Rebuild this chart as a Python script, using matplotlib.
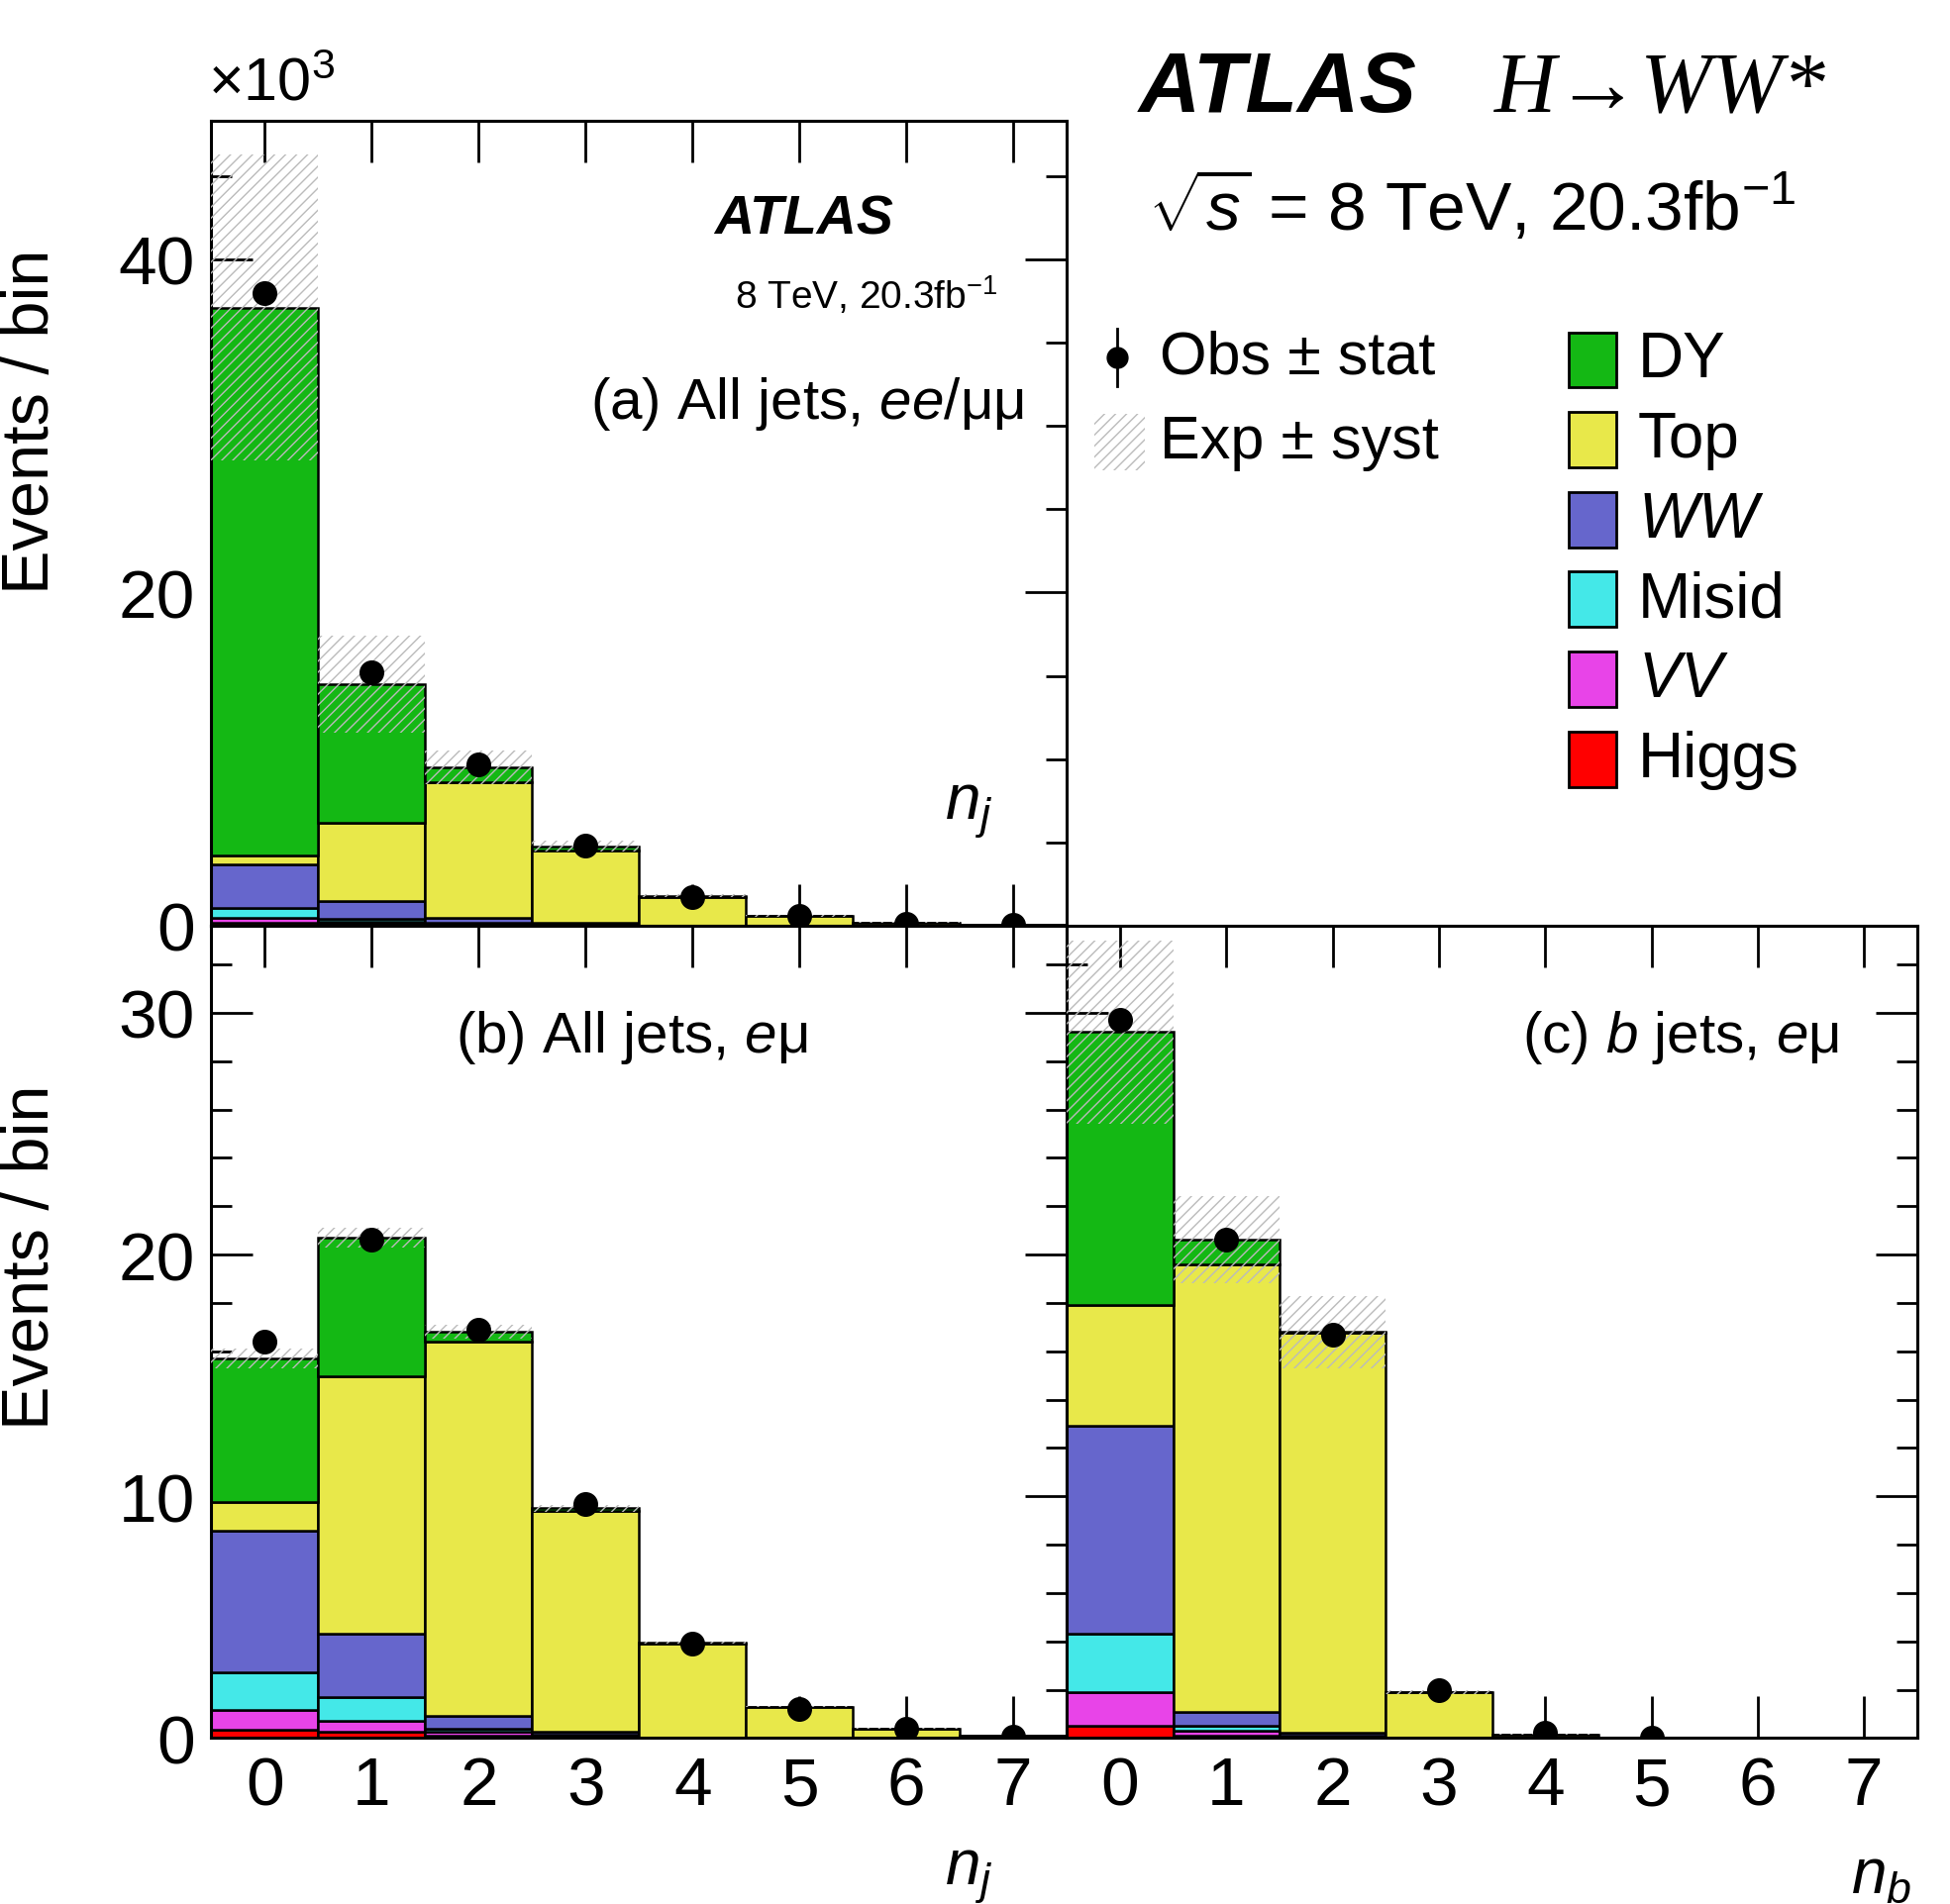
import matplotlib
matplotlib.use("Agg")
import matplotlib.pyplot as plt
import numpy as np
from matplotlib.patches import Rectangle
from matplotlib.ticker import MultipleLocator

plt.rcParams['font.family'] = ['Liberation Sans', 'DejaVu Sans']
plt.rcParams['mathtext.fontset'] = 'custom'
plt.rcParams['mathtext.rm'] = 'Liberation Sans'
plt.rcParams['mathtext.it'] = 'Liberation Sans:italic'
plt.rcParams['mathtext.bf'] = 'Liberation Sans:bold'

bins = np.arange(8)
components = ["Higgs", "VV", "Misid", "WW", "Top", "DY"]
colors = {"DY": "#14b814", "Top": "#e8e84a", "WW": "#6666cc", "Misid": "#44e8e8",
          "VV": "#e844e8", "Higgs": "#ff0000"}

# panel (a) All jets ee/mumu  (x10^3)
a_vals = {
    "Higgs": [0.15, 0.10, 0.05, 0.02, 0.0, 0.0, 0.0, 0.0],
    "VV":    [0.35, 0.15, 0.05, 0.03, 0.0, 0.0, 0.0, 0.0],
    "Misid": [0.55, 0.15, 0.05, 0.03, 0.0, 0.0, 0.0, 0.0],
    "WW":    [2.65, 1.10, 0.30, 0.10, 0.02, 0.0, 0.0, 0.0],
    "Top":   [0.50, 4.70, 8.15, 4.35, 1.73, 0.58, 0.19, 0.05],
    "DY":    [32.9, 8.30, 0.90, 0.25, 0.05, 0.02, 0.01, 0.0],
}
a_obs = [38.0, 15.2, 9.7, 4.8, 1.75, 0.6, 0.12, 0.05]
a_syst = [9.2, 2.9, 1.0, 0.3, 0.1, 0.05, 0.02, 0.01]

# panel (b) All jets e-mu
b_vals = {
    "Higgs": [0.36, 0.26, 0.10, 0.03, 0.0, 0.0, 0.0, 0.0],
    "VV":    [0.80, 0.47, 0.15, 0.04, 0.0, 0.0, 0.0, 0.0],
    "Misid": [1.55, 0.97, 0.15, 0.05, 0.0, 0.0, 0.0, 0.0],
    "WW":    [5.85, 2.60, 0.50, 0.15, 0.03, 0.0, 0.0, 0.0],
    "Top":   [1.20, 10.65, 15.5, 9.13, 3.87, 1.28, 0.39, 0.10],
    "DY":    [5.95, 5.75, 0.40, 0.10, 0.05, 0.02, 0.01, 0.0],
}
b_obs = [16.4, 20.6, 16.9, 9.7, 3.9, 1.2, 0.37, 0.07]
b_syst = [0.4, 0.4, 0.3, 0.15, 0.05, 0.02, 0.01, 0.01]

# panel (c) b jets e-mu
c_vals = {
    "Higgs": [0.50, 0.10, 0.02, 0.0, 0.0, 0.0, 0.0, 0.0],
    "VV":    [1.40, 0.20, 0.03, 0.0, 0.0, 0.0, 0.0, 0.0],
    "Misid": [2.40, 0.20, 0.05, 0.0, 0.0, 0.0, 0.0, 0.0],
    "WW":    [8.60, 0.60, 0.10, 0.02, 0.0, 0.0, 0.0, 0.0],
    "Top":   [5.00, 18.5, 16.55, 1.88, 0.15, 0.02, 0.0, 0.0],
    "DY":    [11.3, 1.00, 0.05, 0.0, 0.0, 0.0, 0.0, 0.0],
}
c_obs = [29.7, 20.6, 16.7, 2.0, 0.2, 0.02, None, None]
c_syst = [3.8, 1.8, 1.5, 0.1, 0.01, 0.0, 0.0, 0.0]

W, H = 1550.0, 1515.0
fig = plt.figure(figsize=(19.69, 19.24), dpi=100)

def fx(px): return px / W
def fy(py): return 1 - py / H

ax_a = fig.add_axes([fx(168), fy(737), fx(848) - fx(168), fy(97) - fy(737)])
ax_b = fig.add_axes([fx(168), fy(1383), fx(848) - fx(168), fy(737) - fy(1383)])
ax_c = fig.add_axes([fx(848), fy(1383), fx(1524) - fx(848), fy(737) - fy(1383)])

def draw(ax, vals, obs, syst, ymax, major, minor):
    bottom = np.zeros(8)
    for comp in components:
        v = np.array(vals[comp])
        ax.bar(bins, v, width=1.0, bottom=bottom, color=colors[comp],
               edgecolor='black', linewidth=1.8, zorder=2)
        bottom += v
    syst = np.array(syst)
    ax.bar(bins, 2 * syst, width=1.0, bottom=bottom - syst, color='none',
           hatch='///', edgecolor='#bbbbbb', linewidth=0, zorder=3)
    ox = [b for b, o in zip(bins, obs) if o is not None]
    oy = [o for o in obs if o is not None]
    ax.plot(ox, oy, 'o', color='black', markersize=17, zorder=5)
    ax.set_xlim(-0.5, 7.5)
    ax.set_ylim(0, ymax)
    ax.xaxis.set_major_locator(MultipleLocator(1))
    ax.yaxis.set_major_locator(MultipleLocator(major))
    ax.yaxis.set_minor_locator(MultipleLocator(minor))
    ax.tick_params(which='both', direction='in', top=True, right=True, width=2)
    ax.tick_params(which='major', length=30, labelsize=50, pad=12)
    ax.tick_params(which='minor', length=15)
    for s in ax.spines.values():
        s.set_linewidth(2.2)

draw(ax_a, a_vals, a_obs, a_syst, 48.3, 20, 5)
draw(ax_b, b_vals, b_obs, b_syst, 33.6, 10, 2)
draw(ax_c, c_vals, c_obs, c_syst, 33.6, 10, 2)
ax_a.set_xticklabels([])
ax_a.set_yticks([0, 20, 40])
ax_c.set_yticklabels([])
ax_b.set_yticks([0, 10, 20, 30])

ax_a.text(0.797, 0.878, "ATLAS", transform=ax_a.transAxes, ha='right', va='center',
          fontsize=40, fontweight='bold', fontstyle='italic')
ax_a.text(0.919, 0.784, "8 TeV, 20.3fb$^{-1}$", transform=ax_a.transAxes, ha='right',
          va='center', fontsize=28)
ax_a.text(0.95, 0.65, "(a) All jets, $ee$/μμ", transform=ax_a.transAxes, ha='right',
          va='center', fontsize=42)
ax_a.text(0.885, 0.144, "$n_j$", transform=ax_a.transAxes, ha='center', va='center',
          fontsize=46)
ax_b.text(0.285, 0.864, "(b) All jets, $e$μ", transform=ax_b.transAxes, ha='left',
          va='center', fontsize=42)
ax_c.text(0.908, 0.864, "(c) $b$ jets, $e$μ", transform=ax_c.transAxes, ha='right',
          va='center', fontsize=42)

fig.text(fx(770), fy(1492), "$n_j$", ha='center', va='center', fontsize=46)
fig.text(fx(1495), fy(1492), "$n_b$", ha='center', va='center', fontsize=46)
fig.text(fx(25), fy(335), "Events / bin", rotation=90, ha='center', va='center', fontsize=48)
fig.text(fx(25), fy(1000), "Events / bin", rotation=90, ha='center', va='center', fontsize=48)
fig.text(fx(165), fy(68), "×10$^3$", ha='left', va='center', fontsize=44)

fig.text(fx(905), fy(72), "ATLAS", ha='left', va='center', fontsize=62,
         fontweight='bold', fontstyle='italic')
fig.text(fx(1188), fy(72), "H→WW*", ha='left', va='center', fontsize=62,
         family='Liberation Serif', fontstyle='italic')
fig.text(fx(912), fy(165), r"$\sqrt{s}$ = 8 TeV, 20.3fb$^{-1}$", ha='left', va='center',
         fontsize=50)

# legend
fig.lines.append(plt.Line2D([fx(888)], [fy(285)], marker='o', color='black',
                            markersize=15, transform=fig.transFigure))
fig.lines.append(plt.Line2D([fx(888), fx(888)], [fy(262), fy(308)], color='black',
                            lw=2, transform=fig.transFigure))
fig.text(fx(922), fy(285), "Obs ± stat", ha='left', va='center', fontsize=44)
fig.patches.append(Rectangle((fx(870), fy(375)), fx(40), fy(330) - fy(375), fill=False,
                             hatch='///', edgecolor='#bbbbbb', linewidth=0,
                             transform=fig.transFigure))
fig.text(fx(922), fy(352), "Exp ± syst", ha='left', va='center', fontsize=44)

legend_items = ["DY", "Top", "WW", "Misid", "VV", "Higgs"]
legend_labels = ["DY", "Top", "$WW$", "Misid", "$VV$", "Higgs"]
for i, (comp, lab) in enumerate(zip(legend_items, legend_labels)):
    yc = 287 + 63.5 * i
    fig.patches.append(Rectangle((fx(1247), fy(yc + 22)), fx(38), fy(yc - 22) - fy(yc + 22),
                                 facecolor=colors[comp], edgecolor='black', linewidth=2,
                                 transform=fig.transFigure))
    fig.text(fx(1302), fy(yc), lab, ha='left', va='center', fontsize=46)

fig.savefig("out.png", dpi=100)
